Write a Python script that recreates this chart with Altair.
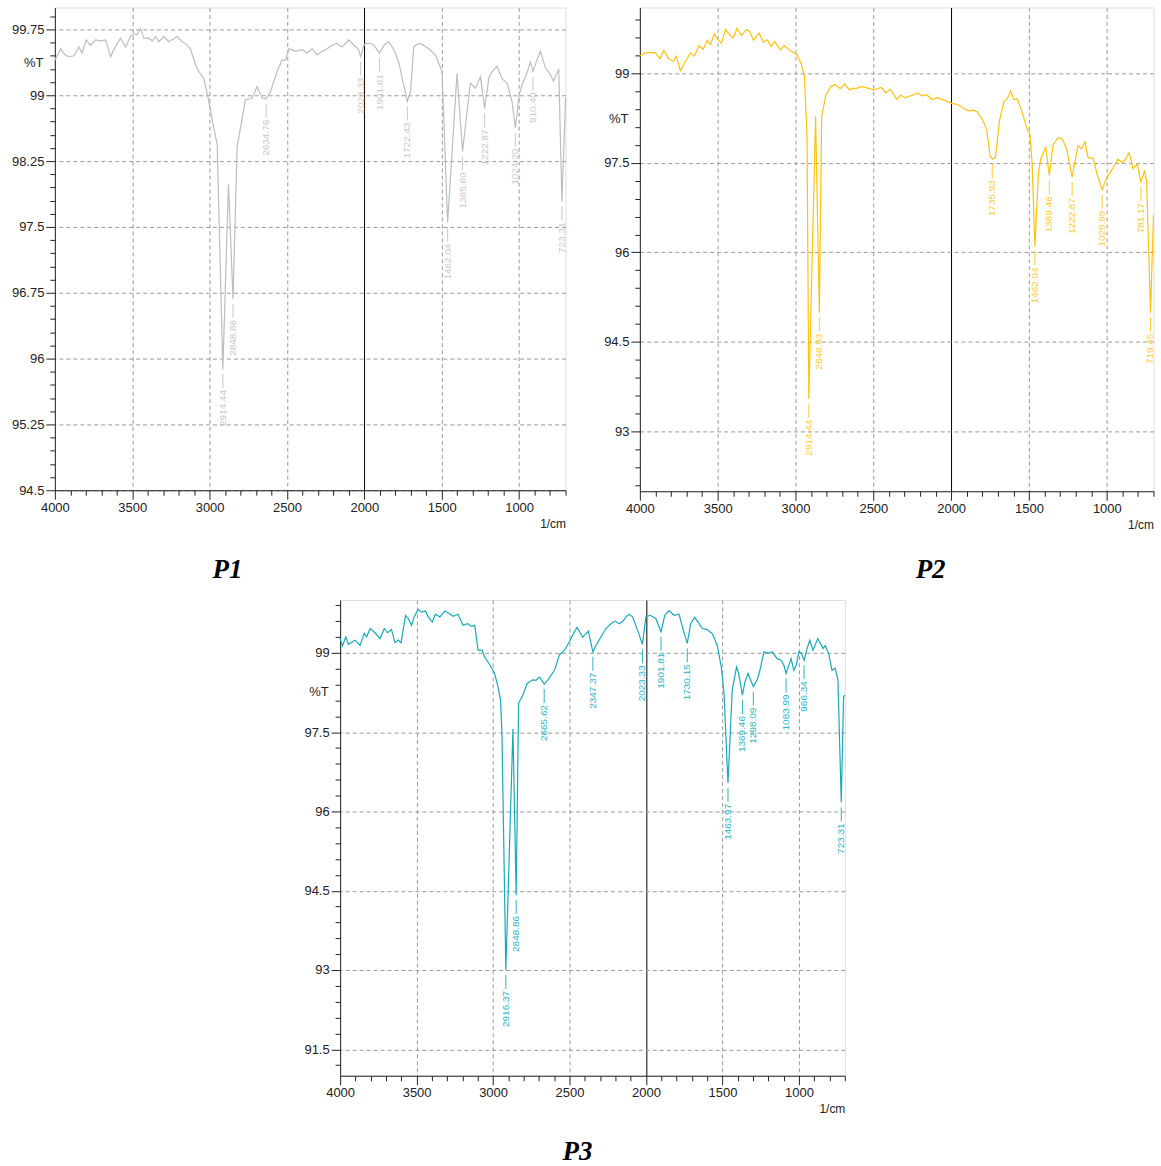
import altair as alt
import pandas as pd

# ---------------- FTIR spectra (wavenumber in 1/cm, transmittance in %T) ----------------
p1_wn = [4000, 3963, 3935, 3910, 3875, 3845, 3824, 3798, 3770, 3737, 3705, 3672, 3640, 3619,
         3576, 3543, 3511, 3490, 3468, 3446, 3425, 3393, 3370, 3349, 3328, 3296, 3264, 3235,
         3210, 3178, 3150, 3124, 3091, 3070, 3037, 3005, 2973, 2951, 2914.44, 2878, 2848.86,
         2822, 2768, 2740, 2725, 2693, 2661, 2634.76, 2607, 2564, 2532, 2510, 2488, 2470, 2445,
         2424, 2402, 2370, 2338, 2306, 2273, 2240, 2209, 2176, 2144, 2101, 2068, 2040, 2023.33,
         2005, 1993, 1960, 1939, 1901.81, 1870, 1842, 1810, 1778, 1750, 1735, 1722.43, 1702,
         1681, 1660, 1638, 1610, 1584, 1541, 1498, 1462.04, 1401, 1365.60, 1315, 1282, 1250,
         1222.87, 1195, 1175, 1143, 1110, 1078, 1046, 1024.20, 1000, 981, 950, 927, 910.40,
         885, 862, 845, 830, 809, 777, 760, 744, 723.31, 705, 700]
p1_t = [99.40, 99.53, 99.46, 99.44, 99.45, 99.55, 99.48, 99.63, 99.57, 99.63, 99.62, 99.63, 99.44, 99.52,
        99.65, 99.55, 99.67, 99.70, 99.69, 99.76, 99.65, 99.65, 99.62, 99.67, 99.61, 99.67, 99.61, 99.64,
        99.67, 99.61, 99.58, 99.53, 99.35, 99.27, 99.19, 98.93, 98.63, 98.44, 95.88, 97.99, 96.68,
        98.42, 98.95, 98.96, 98.97, 99.10, 98.97, 98.96, 99.04, 99.27, 99.40, 99.40, 99.53, 99.52, 99.50,
        99.51, 99.52, 99.48, 99.53, 99.46, 99.50, 99.53, 99.57, 99.59, 99.55, 99.63, 99.57, 99.53, 99.44,
        99.56, 99.59, 99.59, 99.57, 99.48, 99.58, 99.61, 99.52, 99.38, 99.15, 99.04, 98.93, 99.04,
        99.55, 99.58, 99.59, 99.56, 99.53, 99.46, 99.27, 97.55, 99.25, 98.36, 99.14, 99.08, 99.21,
        98.85, 99.20, 99.27, 99.33, 99.19, 99.14, 98.93, 98.63, 99.00, 99.12, 99.25, 99.38, 99.27,
        99.40, 99.50, 99.40, 99.31, 99.27, 99.16, 99.24, 99.29, 97.79, 98.70, 98.97]
p1_peaks = [2914.44, 2848.86, 2634.76, 2023.33, 1901.81, 1722.43, 1462.04, 1365.60,
            1222.87, 1024.20, 910.40, 723.31]

p2_wn = [4000, 3964, 3932, 3900, 3871, 3846, 3814, 3786, 3765, 3739, 3713, 3675, 3649, 3621,
         3593, 3567, 3546, 3521, 3499, 3476, 3450, 3418, 3401, 3375, 3347, 3315, 3295, 3270,
         3234, 3206, 3180, 3158, 3133, 3098, 3072, 3029, 2991, 2965, 2943, 2926, 2914.44, 2871,
         2846.93, 2832, 2804, 2772, 2746, 2711, 2685, 2653, 2630, 2610, 2590, 2567, 2537, 2503,
         2471, 2454, 2439, 2422, 2389, 2351, 2325, 2293, 2250, 2214, 2186, 2158, 2122, 2089,
         2046, 2020, 1993, 1961, 1918, 1886, 1853, 1832, 1800, 1772, 1750, 1735.93, 1715, 1690,
         1661, 1640, 1618, 1597, 1575, 1543, 1511, 1494, 1480, 1462.04, 1440, 1425, 1393,
         1369.46, 1345, 1314, 1286, 1258, 1222.87, 1185, 1164, 1140, 1121, 1087, 1061, 1029.99,
         997, 964, 928, 900, 879, 857, 832, 804, 781.17, 757, 744, 719.45, 700]
p2_t = [99.29, 99.34, 99.35, 99.34, 99.24, 99.38, 99.24, 99.20, 99.28, 99.04, 99.17, 99.34, 99.29, 99.46,
        99.40, 99.55, 99.48, 99.66, 99.56, 99.50, 99.73, 99.63, 99.59, 99.75, 99.63, 99.73, 99.70, 99.55,
        99.67, 99.52, 99.56, 99.45, 99.53, 99.39, 99.46, 99.37, 99.31, 99.17, 98.95, 97.96, 93.55, 98.28,
        94.99, 98.28, 98.64, 98.78, 98.81, 98.74, 98.82, 98.72, 98.75, 98.74, 98.77, 98.77, 98.75, 98.72,
        98.74, 98.76, 98.74, 98.67, 98.73, 98.56, 98.63, 98.59, 98.63, 98.67, 98.62, 98.64, 98.56, 98.59,
        98.55, 98.52, 98.49, 98.48, 98.41, 98.37, 98.38, 98.35, 98.23, 98.06, 97.62, 97.56, 97.59, 98.20,
        98.53, 98.57, 98.70, 98.56, 98.57, 98.34, 98.06, 97.98, 97.50, 96.10, 97.30, 97.56, 97.77,
        97.29, 97.80, 97.92, 97.90, 97.73, 97.26, 97.79, 97.73, 97.85, 97.59, 97.57, 97.29, 97.05,
        97.26, 97.40, 97.56, 97.50, 97.56, 97.67, 97.40, 97.48, 97.18, 97.37, 97.18, 94.99, 96.62]
p2_peaks = [2914.44, 2846.93, 1735.93, 1462.04, 1369.46, 1222.87, 1029.99, 781.17, 719.45]

p3_wn = [4000, 3985, 3963, 3946, 3925, 3902, 3870, 3842, 3827, 3804, 3772, 3739, 3711, 3690,
         3664, 3641, 3620, 3602, 3572, 3555, 3533, 3516, 3490, 3468, 3442, 3424, 3398, 3377,
         3348, 3315, 3289, 3261, 3229, 3196, 3164, 3142, 3120, 3098, 3072, 3055, 3016, 2990,
         2968, 2951, 2942, 2916.37, 2870, 2848.86, 2833, 2805, 2777, 2740, 2720, 2696, 2665.62,
         2642, 2598, 2566, 2533, 2501, 2475, 2451, 2414, 2403, 2377, 2347.37, 2327, 2295, 2262,
         2229, 2203, 2175, 2150, 2131, 2110, 2088, 2055, 2023.33, 2001, 1973, 1936, 1901.81,
         1877, 1849, 1816, 1784, 1756, 1730.15, 1708, 1682, 1660, 1632, 1599, 1566, 1534, 1508,
         1490, 1463.97, 1436, 1408, 1395, 1369.46, 1353, 1333, 1298.09, 1273, 1255, 1229, 1197,
         1175, 1143, 1117, 1099, 1083.99, 1051, 1034, 1017, 1001, 985, 966.34, 947, 929, 908,
         877, 860, 842, 828, 806, 784, 763, 745, 723.31, 708, 700]
p3_t = [99.27, 99.13, 99.30, 99.16, 99.20, 99.24, 99.14, 99.37, 99.30, 99.46, 99.38, 99.27, 99.46, 99.38,
        99.44, 99.19, 99.24, 99.19, 99.71, 99.65, 99.52, 99.68, 99.82, 99.77, 99.79, 99.68, 99.58, 99.73,
        99.68, 99.79, 99.75, 99.69, 99.73, 99.52, 99.55, 99.50, 99.52, 99.05, 99.05, 98.92, 98.75, 98.61,
        98.36, 98.11, 97.48, 93.00, 97.56, 94.42, 98.05, 98.20, 98.42, 98.49, 98.48, 98.54, 98.41,
        98.49, 98.67, 98.96, 99.05, 99.21, 99.36, 99.48, 99.30, 99.33, 99.41, 99.02, 99.14, 99.30, 99.46,
        99.55, 99.60, 99.55, 99.60, 99.68, 99.73, 99.68, 99.43, 99.16, 99.68, 99.71, 99.65, 99.40,
        99.71, 99.80, 99.71, 99.73, 99.43, 99.18, 99.55, 99.67, 99.58, 99.46, 99.44, 99.36, 99.14, 98.74,
        98.24, 96.54, 98.30, 98.73, 98.62, 98.20, 98.45, 98.61, 98.36, 98.49, 98.67, 99.02, 98.99,
        99.02, 98.89, 98.86, 98.77, 98.61, 98.89, 98.67, 98.77, 99.02, 99.00, 98.86, 99.08, 99.24, 99.05,
        99.27, 99.18, 99.08, 99.14, 98.99, 98.67, 98.71, 98.49, 96.17, 98.17, 98.20]
p3_peaks = [2916.37, 2848.86, 2665.62, 2347.37, 2023.33, 1901.81, 1730.15, 1463.97,
            1369.46, 1298.09, 1083.99, 966.34, 723.31]

# axis tick positions
x_ticks = list(range(4000, 699, -100))
p1_major = [94.5, 95.25, 96, 96.75, 97.5, 98.25, 99, 99.75]
p1_ticks = [round(94.5 + 0.15 * i, 2) for i in range(37)]
p2_major = [93, 94.5, 96, 97.5, 99]
p2_ticks = [round(92.1 + 0.3 * i, 2) for i in range(27)]
p3_major = [91.5, 93, 94.5, 96, 97.5, 99]
p3_ticks = [round(91.2 + 0.3 * i, 2) for i in range(30)]

SANS = "Liberation Sans"
SERIF = "Liberation Serif"
INK = "#222222"


def x_axis(width):
    major = "datum.value % 500 === 0"
    return alt.Axis(
        values=x_ticks, title="1/cm", labelExpr=f"{major} ? toString(datum.value) : ''",
        labelOverlap=False, labelFlush=False, labelFont=SANS, labelFontSize=13,
        labelColor=INK, labelPadding=2,
        tickSize={"condition": {"test": major, "value": 9}, "value": 5},
        tickColor=INK, domainColor=INK,
        grid=True,
        gridOpacity={"condition": {"test": f"{major} && datum.value !== 4000", "value": 1}, "value": 0},
        gridDash={"condition": {"test": "datum.value === 2000", "value": []}, "value": [4, 3]},
        gridColor={"condition": {"test": "datum.value === 2000", "value": "#000000"}, "value": "#9a9a9a"},
        titleFont=SANS, titleFontSize=12, titleFontWeight="normal", titleColor=INK,
        titleX=width, titleY=33, titleAlign="right", titleBaseline="middle",
    )


def y_axis(ticks, major, title_y):
    test = f"indexof({major}, datum.value) >= 0"
    return alt.Axis(
        values=ticks, title="%T", labelExpr=f"{test} ? toString(datum.value) : ''",
        labelOverlap=False, labelFlush=False, labelFont=SANS, labelFontSize=13,
        labelColor=INK, labelPadding=2,
        tickSize={"condition": {"test": test, "value": 9}, "value": 5},
        tickColor=INK, domainColor=INK,
        grid=True,
        gridOpacity={"condition": {"test": test, "value": 1}, "value": 0},
        gridDash=[4, 3], gridColor="#9a9a9a",
        titleFont=SANS, titleFontSize=13, titleFontWeight="normal", titleColor=INK,
        titleAngle=0, titleX=-12, titleY=title_y, titleAlign="right", titleBaseline="middle",
    )


def panel(wn, t, peaks, ydom, ticks, major, title_y, width, height,
          line_color, label_color, name, title_dx, title_offset):
    df = pd.DataFrame({"wn": wn, "T": t})
    lookup = dict(zip(wn, t))
    lab = pd.DataFrame({"wn": peaks, "T": [lookup[p] for p in peaks]})

    x = alt.X("wn:Q", scale=alt.Scale(domain=[700, 4000], reverse=True, nice=False, zero=False),
              axis=x_axis(width))
    y = alt.Y("T:Q", scale=alt.Scale(domain=ydom, nice=False, zero=False),
              axis=y_axis(ticks, major, title_y))

    spectrum = alt.Chart(df).mark_line(color=line_color, strokeWidth=1.2).encode(x=x, y=y)
    leaders = alt.Chart(lab).mark_rule(color=label_color, strokeWidth=1, yOffset=5,
                                       y2Offset=19).encode(x=x, y=y, y2=alt.Y2("T"))
    labels = alt.Chart(lab).mark_text(
        angle=270, align="right", baseline="middle", yOffset=21, font=SANS,
        fontSize=10, color=label_color,
    ).encode(x=x, y=y, text=alt.Text("wn:Q", format=".2f"))

    return alt.layer(spectrum, leaders, labels).properties(
        width=width, height=height,
        title=alt.TitleParams(
            text=name, orient="bottom", anchor="middle", frame="group", dx=title_dx,
            offset=title_offset, font=SERIF, fontSize=27, fontWeight="bold",
            fontStyle="italic", color="#000000",
        ),
    )


p1 = panel(p1_wn, p1_t, p1_peaks, [94.5, 100], p1_ticks, p1_major, 55,
           512, 484, "#bdbdbd", "#c8c8c8", "P1", -83, 28)
p2 = panel(p2_wn, p2_t, p2_peaks, [92.0, 100.1], p2_ticks, p2_major, 111,
           515, 485, "#ffc20a", "#ffcc33", "P2", 34, 27)
p3 = panel(p3_wn, p3_t, p3_peaks, [91, 100], p3_ticks, p3_major, 92,
           506, 477, "#19a9b9", "#2cb4c6", "P3", -15, 24)

# empty block that pushes the third panel to the right
spacer = alt.Chart(pd.DataFrame({"v": [0]})).mark_point(opacity=0).encode(
    x=alt.X("v:Q", axis=None), y=alt.Y("v:Q", axis=None)
).properties(width=286, height=10, view=alt.ViewBackground(stroke="transparent"))

top = alt.hconcat(p1, p2, spacing=74.5, bounds="flush")
bottom = alt.hconcat(spacer, p3, spacing=0, bounds="flush")

# nested rows report no height under flush bounds, so the gap carries the first row's height
chart = alt.vconcat(top, bottom, spacing=594, bounds="flush").properties(
    padding={"left": 10, "top": 5, "right": 4, "bottom": 5}
).configure_view(stroke="#444444", strokeWidth=1).configure(background="white")

chart.save("out.html", embed_options={"renderer": "svg", "actions": False})
